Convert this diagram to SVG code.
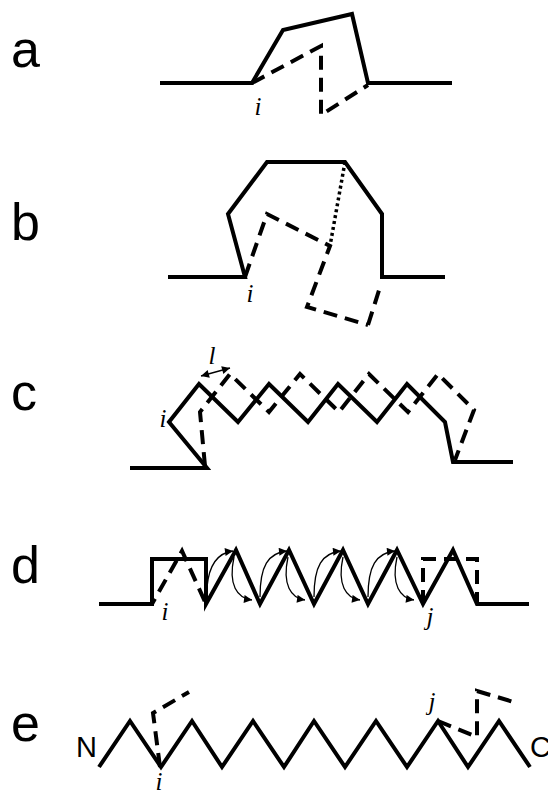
<svg xmlns="http://www.w3.org/2000/svg" width="548" height="794" viewBox="0 0 548 794">
  <style>
    .panel { font-family: "Liberation Sans", Arial, sans-serif; font-size: 52px; fill: #000; }
    .end { font-family: "Liberation Sans", Arial, sans-serif; font-size: 29px; fill: #000; }
    .var { font-family: "Liberation Serif", "Times New Roman", serif; font-style: italic; font-size: 25px; fill: #000; text-anchor: middle; }
    .solid { fill: none; stroke: #000; stroke-width: 4; stroke-linejoin: miter; stroke-linecap: butt; }
    .dash { fill: none; stroke: #000; stroke-width: 4; stroke-dasharray: 14 8; stroke-linejoin: miter; }
    .dot { fill: none; stroke: #000; stroke-width: 3.5; stroke-dasharray: 3 3; }
    .thin { fill: none; stroke: #000; stroke-width: 1.3; }
  </style>
  <defs>
    <marker id="head" viewBox="0 0 10 10" refX="10" refY="5" markerWidth="9" markerHeight="8" markerUnits="userSpaceOnUse" orient="auto">
      <path d="M0,0 L10,5 L0,10 Z" fill="#000"/>
    </marker>
    <marker id="headStart" viewBox="0 0 10 10" refX="0" refY="5" markerWidth="9" markerHeight="8" markerUnits="userSpaceOnUse" orient="auto">
      <path d="M10,0 L0,5 L10,10 Z" fill="#000"/>
    </marker>
  </defs>

  <!-- panel letters -->
  <g id="labels">
    <text class="panel" x="11" y="67">a</text>
    <text class="panel" x="11" y="240">b</text>
    <text class="panel" x="11" y="410">c</text>
    <text class="panel" x="11" y="583">d</text>
    <text class="panel" x="11" y="741">e</text>
  </g>

  <!-- a: single loop moving off the chain -->
  <g id="panel-a">
    <path class="solid" d="M160,83 L252,83 L283,30 L352,14 L368,83 L452,83"/>
    <path class="dash" d="M252,83 L321,46 L321,115 L368,85"/>
    <text class="var" x="258" y="115">i</text>
  </g>

  <!-- b: larger loop with a dotted tether -->
  <g id="panel-b">
    <path class="solid" d="M168,277 L245,277 L228,214 L267,162 L345,162 L382,214 L382,277 L445,277"/>
    <path class="dash" d="M245,277 L267,214 L330,246 L307,307 L368,325"/>
    <path class="dash" d="M368,325 L381,284"/>
    <path class="dot" d="M345,162 L330,246"/>
    <text class="var" x="250" y="302">i</text>
  </g>

  <!-- c: zigzag segment shifted by l -->
  <g id="panel-c">
    <path class="solid" d="M130,468 L207,468 L169,422 L199,384 L238,422 L269,384 L308,422 L338,384 L377,422 L407,384 L445,422 L453,462 L513,462"/>
    <path class="dash" d="M205,466 L200,412 L230,374 L269,412 L300,374 L339,412 L369,374 L408,412 L438,374 L474,410 L455,460"/>
    <path class="thin" d="M201,376 L230,368" marker-start="url(#headStart)" marker-end="url(#head)"/>
    <text class="var" x="212" y="364">l</text>
    <text class="var" x="163" y="427">i</text>
  </g>

  <!-- d: defect propagating along the zigzag -->
  <g id="panel-d">
    <path class="solid" d="M99,604 L152,604 L152,559 L206,559 L206,604 L236,550 L260,604 L289,550 L314,604 L343,550 L368,604 L397,550 L423,604 L453,550 L477,604 L529,604"/>
    <path class="dash" style="stroke-dashoffset:8" d="M152,604 L182,551 L206,604"/>
    <path class="dash" d="M423,604 L423,559 L477,559 L477,604"/>
    <text class="var" x="165" y="620">i</text>
    <text class="var" x="430" y="625">j</text>
  </g>

  <g id="connectors">
    <path class="thin" d="M207,587 C209,565 217,553 233,551" marker-end="url(#head)"/>
    <path class="thin" d="M234,557 C228,585 237,598 252,600" marker-end="url(#head)"/>
    <path class="thin" d="M260,597 C260,566 268,553 287,551" marker-end="url(#head)"/>
    <path class="thin" d="M288,557 C282,585 291,598 305,600" marker-end="url(#head)"/>
    <path class="thin" d="M314,597 C314,566 322,553 341,551" marker-end="url(#head)"/>
    <path class="thin" d="M343,557 C337,585 346,598 360,600" marker-end="url(#head)"/>
    <path class="thin" d="M368,597 C368,566 376,553 395,551" marker-end="url(#head)"/>
    <path class="thin" d="M397,557 C391,585 400,598 414,600" marker-end="url(#head)"/>
  </g>

  <!-- e: full chain from N to C with two displaced ends -->
  <g id="panel-e">
    <path class="solid" d="M99,767 L130,721 L161,767 L192,721 L222,767 L253,721 L284,767 L314,721 L345,767 L376,721 L407,767 L438,721 L468,767 L499,721 L530,767"/>
    <path class="dash" d="M160,767 L153,713 L189,692"/>
    <path class="dash" d="M438,721 L477,737 L477,691 L517,703"/>
    <text class="end" x="76" y="757">N</text>
    <text class="end" x="530" y="757">C</text>
    <text class="var" x="159" y="790">i</text>
    <text class="var" x="432" y="710">j</text>
  </g>
</svg>
